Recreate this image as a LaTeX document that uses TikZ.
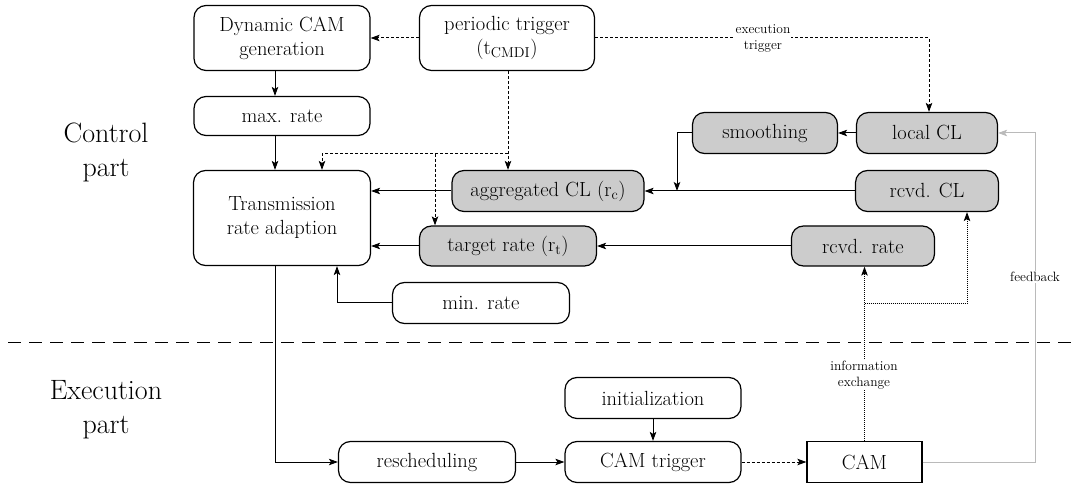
\documentclass[tikz,border=0pt]{standalone}
\usepackage{fontspec}
\usetikzlibrary{arrows.meta}
\begin{document}
\begin{tikzpicture}[x=1pt,y=-1pt,
  box/.style={draw, line width=1.2pt, rounded corners=12pt, align=center, inner sep=2pt,
    font=\fontsize{20.5}{24}\selectfont},
  gbox/.style={box, fill=black!20},
  small/.style={font=\fontsize{13.5}{16}\selectfont, align=center, fill=white, inner sep=1pt},
  part/.style={font=\fontsize{28}{34}\selectfont, align=center},
  >={Stealth[length=9pt,width=6.5pt,inset=2pt]},
  every path/.style={line width=1pt},
  dsh/.style={dash pattern=on 3pt off 2pt},
  dot/.style={densely dotted}]
\useasboundingbox (0,0) rectangle (1076,486);
% nodes
\node[box, minimum width=176, minimum height=65] (dyn) at (282,38) {Dynamic CAM\\generation};
\node[box, minimum width=175, minimum height=65] (trig) at (507,38) {periodic trigger\\(t\textsubscript{CMDI})};
\node[box, minimum width=176, minimum height=39] (maxr) at (282,116) {max. rate};
\node[box, minimum width=177, minimum height=95] (tra) at (282,218) {Transmission\\rate adaption};
\node[gbox, minimum width=192, minimum height=41] (agg) at (548,191) {aggregated CL (r\textsubscript{c})};
\node[gbox, minimum width=177, minimum height=40] (tgt) at (508,246) {target rate (r\textsubscript{t})};
\node[box, minimum width=177, minimum height=41] (minr) at (481,303) {min. rate};
\node[gbox, minimum width=145, minimum height=41] (smooth) at (765,133) {smoothing};
\node[gbox, minimum width=141, minimum height=41] (loc) at (927,133) {local CL};
\node[gbox, minimum width=143, minimum height=41] (rcl) at (927,191) {rcvd. CL};
\node[gbox, minimum width=143, minimum height=40] (rrt) at (863,246) {rcvd. rate};
\node[box, minimum width=176, minimum height=41] (init) at (653,398) {initialization};
\node[box, minimum width=176, minimum height=41] (camt) at (653,462) {CAM trigger};
\node[box, minimum width=177, minimum height=41] (resch) at (427,462) {rescheduling};
\node[draw, line width=1.2pt, minimum width=115, minimum height=41, font=\fontsize{20.5}{24}\selectfont] (cam) at (864.5,462) {CAM};
\node[part] (cp) at (106,152) {Control\\part};
\node[part] (ep) at (106,410) {Execution\\part};
% divider
\coordinate (dl) at (8,342);
\coordinate (dr) at (1076,342);
\draw[dash pattern=on 13pt off 8pt] (dl) -- (dr);
% helper coordinates
\coordinate (c) at (275,0);
\coordinate (j) at (508,154);
\coordinate (jl) at (322,154);
\coordinate (jm) at (435,154);
\coordinate (m) at (337,0);
\coordinate (s) at (677,191);
\coordinate (e) at (967,304);
\coordinate (f) at (1035,0);
\coordinate (k) at (929,0);
% dashed trigger connectors
\draw[dsh,->] (trig.west) -- (dyn.east);
\draw[dsh,->] (trig.east) -- (trig.east -| k) -- (k |- loc.north);
\node[small] (et) at (763,38) {execution\\trigger};
\draw[dsh,->] (trig.south -| j) -- (j |- agg.north);
\draw[dsh,->] (j) -- (jl) -- (jl |- tra.north);
\draw[dsh,->] (jm) -- (jm |- tgt.north);
% solid connectors
\draw[->] (dyn.south -| c) -- (maxr.north -| c);
\draw[->] (maxr.south -| c) -- (tra.north -| c);
\draw[->] (agg.west) -- (agg.west -| tra.east);
\draw[->] (tgt.west) -- (tgt.west -| tra.east);
\draw[->] (minr.west) -| (m |- tra.south);
\draw[->] (loc.west) -- (smooth.east);
\draw[->] (smooth.west) -| (s);
\draw[->] (rcl.west) -- (agg.east);
\draw[->] (rrt.west) -- (tgt.east);
\draw[->] (tra.south -| c) |- (resch.west);
\draw[->] (resch.east) -- (camt.west);
\draw[->] (init.south) -- (camt.north);
\draw[dsh,->] (camt.east) -- (cam.west);
% information exchange
\draw[dot,->] (cam.north) -- (cam.north |- rrt.south);
\draw[dot,->] (cam.north |- e) -| (rcl.south -| e);
\node[small] (ie) at (864,375) {information\\exchange};
% feedback
\draw[black!27,->] (cam.east) -- (cam.east -| f) -- (f |- loc.east) -- (loc.east);
\node[small] (fb) at (1035,277) {feedback};
\end{tikzpicture}
\end{document}
